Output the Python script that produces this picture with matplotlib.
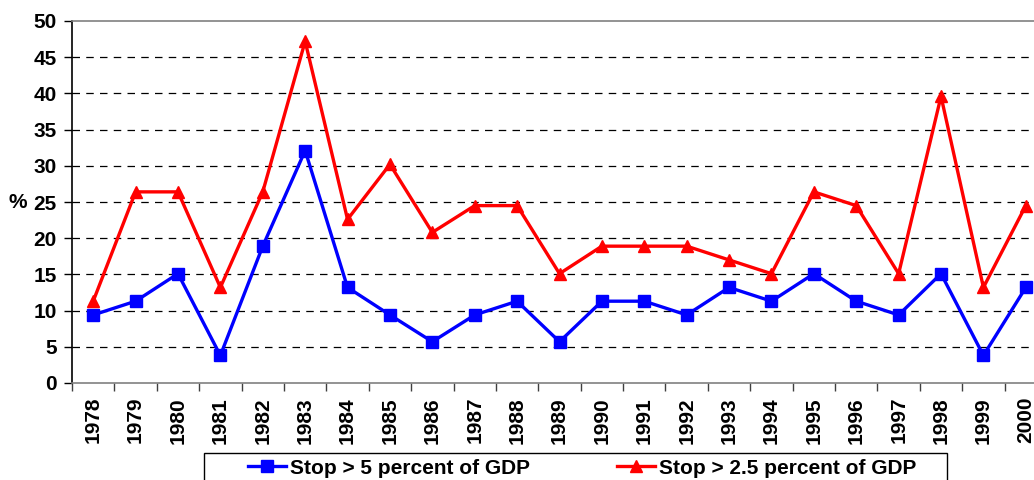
import matplotlib
matplotlib.use("Agg")
import matplotlib.pyplot as plt
from matplotlib.patches import Rectangle
import numpy as np

plt.rcParams['font.family'] = ['Liberation Sans', 'DejaVu Sans']
plt.rcParams['font.weight'] = 'bold'

years = [str(y) for y in range(1978, 2001)]
stop_5 = [9.4, 11.3, 15.1, 3.8, 18.9, 32.1, 13.2, 9.4, 5.7, 9.4, 11.3, 5.7,
          11.3, 11.3, 9.4, 13.2, 11.3, 15.1, 11.3, 9.4, 15.1, 3.8, 13.2]
stop_25 = [11.3, 26.4, 26.4, 13.2, 26.4, 47.2, 22.6, 30.2, 20.8, 24.5, 24.5, 15.1,
           18.9, 18.9, 18.9, 17.0, 15.1, 26.4, 24.5, 15.1, 39.6, 13.2, 24.5]

W, H = 1034, 480
FS = 15
fig = plt.figure(figsize=(W / 100, H / 100), dpi=100)
# axes extends slightly beyond right edge, like the original crop
ax = fig.add_axes([72 / W, 1 - 383 / H, 975 / W, 362 / H])

x = np.arange(len(years))
ax.plot(x, stop_5, color='#0000ff', lw=2.4, marker='s', markersize=9,
        label='Stop > 5 percent of GDP', clip_on=False, zorder=3)
ax.plot(x, stop_25, color='#ff0000', lw=2.4, marker='^', markersize=9,
        label='Stop > 2.5 percent of GDP', clip_on=False, zorder=4)

ax.set_xlim(-0.5, len(years) - 0.5)
ax.set_ylim(0, 50)
ax.set_yticks(np.arange(0, 51, 5))
ax.set_xticks(x)
ax.set_xticklabels(years, rotation=90, fontsize=FS, fontweight='bold')
ax.set_xticks(np.arange(-0.5, len(years), 1), minor=True)
ax.tick_params(axis='x', which='major', length=0, pad=10)
ax.tick_params(axis='x', which='minor', length=6, width=1, color='#404040')
ax.tick_params(axis='y', length=6, width=1, labelsize=FS, pad=5)
for lab in ax.get_yticklabels():
    lab.set_fontweight('bold')

for v in range(5, 50, 5):
    ax.axhline(v, color='black', lw=0.9, ls=(0, (6, 5)), zorder=1)

ax.spines['right'].set_visible(False)
ax.spines['top'].set_color('#808080')
ax.spines['bottom'].set_color('#808080')
ax.spines['left'].set_color('black')
for s in ax.spines.values():
    s.set_linewidth(1.2)

fig.text(18 / W, 1 - 202 / H, '%', ha='center', va='center', fontsize=FS, fontweight='bold')

# legend frame drawn by hand so the padding can match the original
fig.patches.append(Rectangle((204 / W, -0.05), (947 - 204) / W, 0.05 + (480 - 453) / H,
                             transform=fig.transFigure, facecolor='white',
                             edgecolor='black', lw=1.0))
leg = fig.legend(loc='center left', bbox_to_anchor=(248 / W, 1 - 468 / H),
                 ncol=2, frameon=False, fontsize=FS, handlelength=1.8,
                 handletextpad=0.2, columnspacing=4.2, borderpad=0, borderaxespad=0)
for t in leg.get_texts():
    t.set_fontweight('bold')

fig.savefig('out.png', dpi=100)
